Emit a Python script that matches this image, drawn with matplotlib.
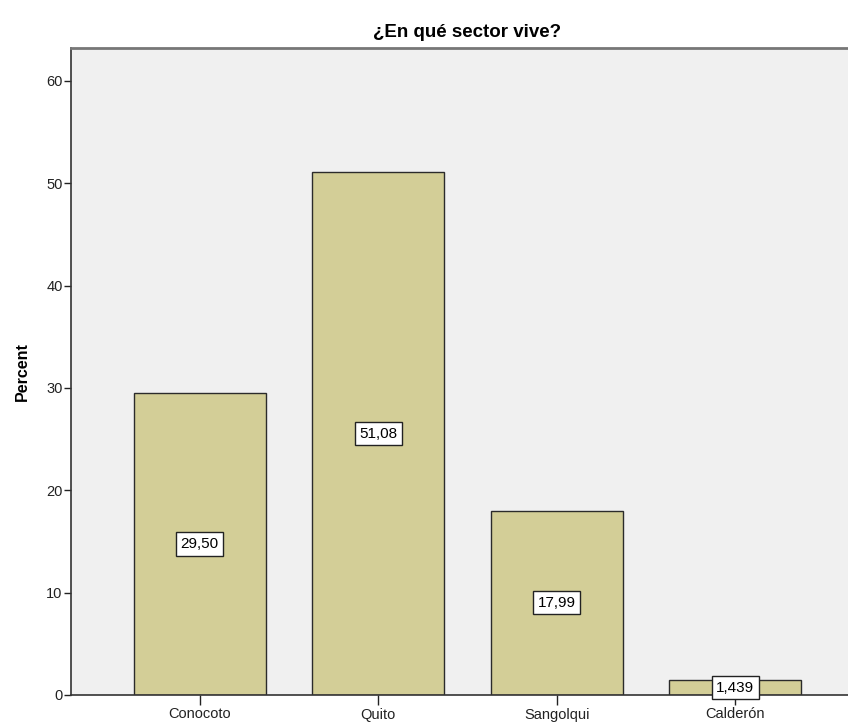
import matplotlib
matplotlib.use("Agg")
import matplotlib.pyplot as plt

# porcentaje por sector
sectores = ["Conocoto", "Quito", "Sangolqui", "Calderón"]
porcentajes = [29.50, 51.08, 17.99, 1.439]
etiquetas = ["29,50", "51,08", "17,99", "1,439"]

plt.rcParams['font.family'] = ['Liberation Sans', 'DejaVu Sans']

fig = plt.figure(figsize=(8.48, 7.26), dpi=100)
ax = fig.add_axes([71 / 848, 31 / 726, 793 / 848, 647 / 726])
ax.set_facecolor('#f0f0f0')

x = range(len(sectores))
barras = ax.bar(x, porcentajes, width=0.74, color='#d3ce97',
                edgecolor='#2b2b2b', linewidth=1.0, zorder=2)

# cajas con el valor a media altura de cada barra
for xi, v, txt in zip(x, porcentajes, etiquetas):
    ax.text(xi, v / 2, txt, ha='center', va='center', fontsize=11, zorder=3,
            bbox=dict(boxstyle='square,pad=0.3', fc='white', ec='#222222', lw=1.0))

ax.set_xlim(-0.72, 3.72)
ax.set_ylim(0, 63.2)
ax.set_yticks([0, 10, 20, 30, 40, 50, 60])
ax.set_xticks(list(x))
ax.set_xticklabels(sectores)
ax.tick_params(axis='both', direction='out', length=5, width=1.0,
               color='#222222', labelsize=10.5, labelcolor='#222222')
ax.tick_params(axis='x', length=7, pad=2)
ax.tick_params(axis='y', pad=1)

for lado in ['left', 'top', 'bottom']:
    ax.spines[lado].set_color('#333333')
    ax.spines[lado].set_linewidth(1.2)
ax.spines['top'].set_color('#777777')
ax.spines['top'].set_linewidth(2.0)
ax.spines['right'].set_visible(False)

ax.set_ylabel('Percent', fontsize=11.5, fontweight='bold', labelpad=12)
ax.set_title('¿En qué sector vive?', fontsize=13.5, fontweight='bold', pad=8)

fig.savefig('out.png', dpi=100)
